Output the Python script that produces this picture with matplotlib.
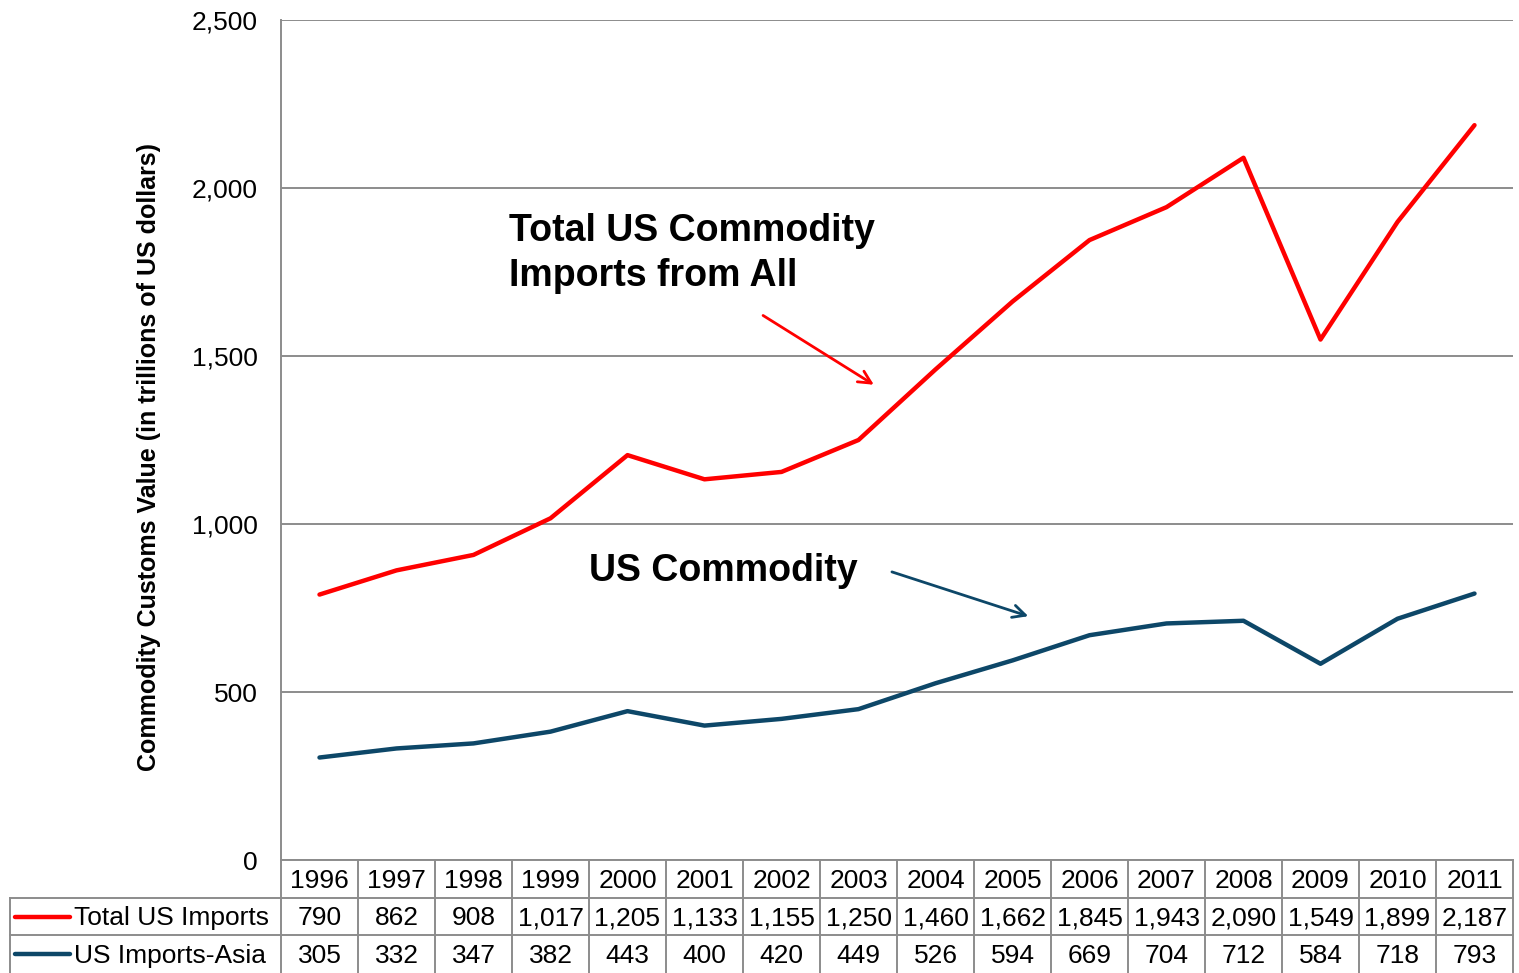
import numpy as np
import matplotlib.pyplot as plt

plt.rcParams['font.family'] = ['Liberation Sans', 'DejaVu Sans']

years = ['1996', '1997', '1998', '1999', '2000', '2001', '2002', '2003',
         '2004', '2005', '2006', '2007', '2008', '2009', '2010', '2011']
total_imports = [790, 862, 908, 1017, 1205, 1133, 1155, 1250,
                 1460, 1662, 1845, 1943, 2090, 1549, 1899, 2187]
asia_imports = [305, 332, 347, 382, 443, 400, 420, 449,
                526, 594, 669, 704, 712, 584, 718, 793]
series_names = ['Total US Imports', 'US Imports-Asia']

red = '#FF0000'
navy = '#0D4768'
grid = '#8C8C8C'
fs = 19

W, H = 1519, 973
fig = plt.figure(figsize=(W / 100, H / 100), dpi=100)

x0, x1, ytop, ybot = 281, 1513, 20, 860
ax = fig.add_axes([x0 / W, 1 - ybot / H, (x1 - x0) / W, (ybot - ytop) / H])
x = np.arange(len(years))
ax.plot(x, total_imports, color=red, lw=3.2, solid_capstyle='round', zorder=3)
ax.plot(x, asia_imports, color=navy, lw=3.2, solid_capstyle='round', zorder=3)
ax.set_xlim(-0.5, len(years) - 0.5)
ax.set_ylim(0, 2500)
ax.set_yticks(np.arange(0, 2501, 500))
ax.set_yticklabels(['{:,}'.format(v) for v in range(0, 2501, 500)], fontsize=fs)
ax.set_xticks([])
ax.yaxis.grid(True, color=grid, lw=1.4)
ax.set_axisbelow(True)
for s in ['top', 'right', 'bottom']:
    ax.spines[s].set_visible(False)
ax.spines['left'].set_color(grid)
ax.spines['left'].set_linewidth(1.4)
ax.tick_params(axis='y', length=0, pad=17)
ax.set_ylabel('Commodity Customs Value (in trillions of US dollars)',
              fontsize=18, fontweight='bold')
ax.yaxis.set_label_coords(-0.0975, 0.48)

ax.text(2.46, 1805, 'Total US Commodity\nImports from All', fontsize=27,
        fontweight='bold', va='center', ha='left', linespacing=1.32)
ax.annotate('', xy=(7.23, 1410), xytext=(5.73, 1625),
            arrowprops=dict(arrowstyle='->,head_length=0.9,head_width=0.45',
                            color=red, lw=2))
ax.text(3.5, 860, 'US Commodity', fontsize=27, fontweight='bold',
        va='center', ha='left')
ax.annotate('', xy=(9.24, 723), xytext=(7.40, 860),
            arrowprops=dict(arrowstyle='->,head_length=0.9,head_width=0.45',
                            color=navy, lw=2))

# data table below the plot
tb = fig.add_axes([x0 / W, 0, (x1 - x0) / W, (H - ybot) / H])
tb.set_xlim(-0.5, len(years) - 0.5)
tb.set_ylim(3, 0)
tb.axis('off')
colw_px = (x1 - x0) / len(years)
left = -0.5 - (x0 - 10) / colw_px
kw = dict(color=grid, lw=1.4, clip_on=False)
tb.plot([-0.5, len(years) - 0.5], [0, 0], **kw)
tb.plot([left, len(years) - 0.5], [1, 1], **kw)
tb.plot([left, len(years) - 0.5], [2, 2], **kw)
tb.plot([left, left], [1, 3], **kw)
for i in range(len(years) + 1):
    tb.plot([i - 0.5, i - 0.5], [0, 3], **kw)
for i, yr in enumerate(years):
    tb.text(i, 0.55, yr, ha='center', va='center', fontsize=fs)
    tb.text(i, 1.55, '{:,}'.format(total_imports[i]), ha='center', va='center', fontsize=fs)
    tb.text(i, 2.55, '{:,}'.format(asia_imports[i]), ha='center', va='center', fontsize=fs)
sw0 = left + 5 / colw_px
sw1 = left + 60 / colw_px
for r, (name, c) in enumerate(zip(series_names, [red, navy])):
    tb.plot([sw0, sw1], [r + 1.5, r + 1.5], color=c, lw=3.2,
            solid_capstyle='round', clip_on=False)
    tb.text(sw1 + 0.05, r + 1.55, name, ha='left', va='center', fontsize=fs)

fig.savefig('out.png', dpi=100)
